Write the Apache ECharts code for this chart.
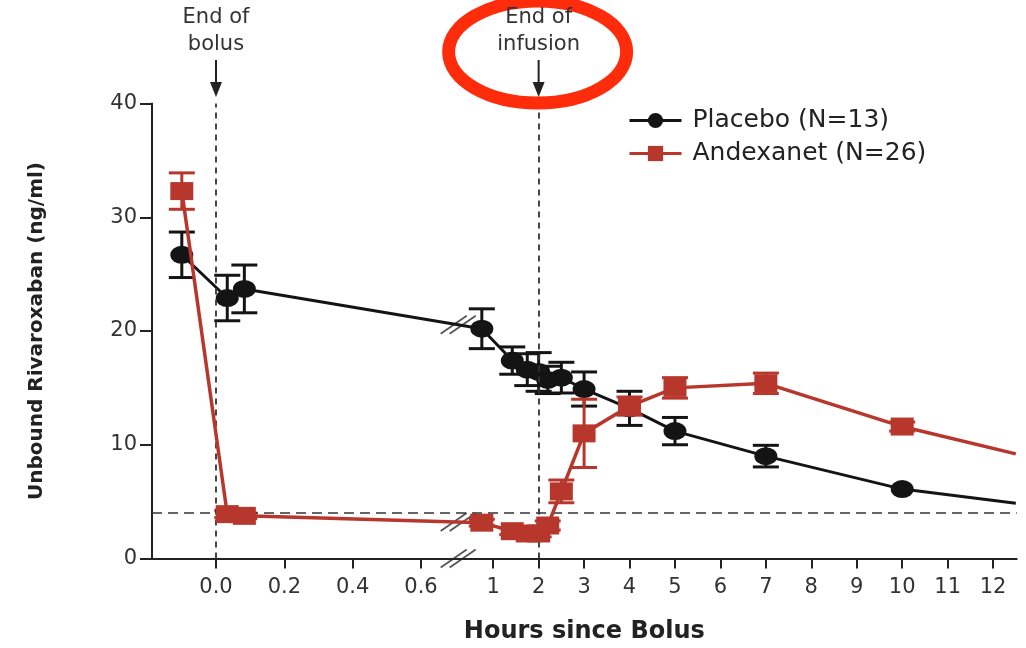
<!DOCTYPE html>
<html><head><meta charset="utf-8">
<script src="https://cdn.jsdelivr.net/npm/echarts@6/dist/echarts.min.js"></script>
<style>html,body{margin:0;padding:0;background:#fff}#c{width:1026px;height:648px}</style>
</head><body><div id="c"></div><script>
// ---- data (hours since bolus; unbound rivaroxaban ng/ml) ----
const hours       = [-0.1, 0.033, 0.083, 0.75, 1.42, 1.75, 2.0, 2.2, 2.5, 3, 4, 5, 7, 10, 12.5];
const placeboMean = [26.7, 22.9, 23.7, 20.2, 17.4, 16.6, 16.4, 15.7, 15.9, 14.9, 13.2, 11.2, 9.0, 6.1, 4.85];
const placeboErr  = [2.0, 2.0, 2.1, 1.75, 1.2, 1.4, 1.7, 1.2, 1.35, 1.5, 1.5, 1.2, 0.95, 0, null];
const andexMean   = [32.3, 3.9, 3.75, 3.15, 2.4, 2.2, 2.2, 2.9, 5.9, 11.0, 13.4, 15.0, 15.4, 11.6, 9.2];
const andexErr    = [1.6, 0.3, 0.25, 0.3, 0.3, 0.3, 0.3, 0.4, 1.0, 3.0, 0.8, 0.9, 0.9, 0.4, null];
const earlyTicks  = [0, 0.2, 0.4, 0.6];
const lateTicks   = [1, 2, 3, 4, 5, 6, 7, 8, 9, 10, 11, 12];
const seriesNames = ['Placebo (N=13)', 'Andexanet (N=26)'];
const thresholdLevel = 4;
const eventHours  = [0, 2];
const eventLabels = ['End of\nbolus', 'End of\ninfusion'];
const xTitle = 'Hours since Bolus';
const yTitle = 'Unbound Rivaroxaban (ng/ml)';

// ---- broken time axis: early part stretched, then a break ----
const EARLY_SCALE = 7.52, LATE_SHIFT = 5.10, BREAK_HOURS = 0.7, BREAK_U = 5.33;
const u = t => t < BREAK_HOURS ? t * EARLY_SCALE : t + LATE_SHIFT;
const tickU = earlyTicks.map(u).concat(lateTicks.map(u));
const tickText = earlyTicks.map(v => v.toFixed(1)).concat(lateTicks.map(String));

const FONT = 'DejaVu Sans';
const BLACK = '#141414', RED = '#b8372d';

function lineData(means, errs) {
  return hours.map((t, i) => errs[i] == null
    ? { value: [u(t), means[i]], symbol: 'none' }
    : [u(t), means[i]]);
}
function errData(means, errs) {
  const out = [];
  hours.forEach((t, i) => { if (errs[i]) out.push([u(t), means[i] - errs[i], means[i] + errs[i]]); });
  return out;
}
function errSeries(name, color, data, z) {
  return {
    name, type: 'custom', data, z, silent: true,
    encode: { x: 0, y: [1, 2] },
    renderItem: (params, api) => {
      const x = api.value(0);
      const lo = api.coord([x, api.value(1)]);
      const hi = api.coord([x, api.value(2)]);
      const w = 13;
      const st = { stroke: color, lineWidth: 3 };
      return { type: 'group', children: [
        { type: 'line', shape: { x1: lo[0], y1: lo[1], x2: hi[0], y2: hi[1] }, style: st },
        { type: 'line', shape: { x1: lo[0] - w, y1: lo[1], x2: lo[0] + w, y2: lo[1] }, style: st },
        { type: 'line', shape: { x1: hi[0] - w, y1: hi[1], x2: hi[0] + w, y2: hi[1] }, style: st }
      ]};
    }
  };
}

const chart = echarts.init(document.getElementById('c'), null, { renderer: 'canvas' });
const option = {
  animation: false,
  backgroundColor: '#fff',
  grid: { left: 152, right: 9.3, top: 103.5, bottom: 89.5, containLabel: false, outerBoundsMode: 'none' },
  legend: {
    data: seriesNames, orient: 'vertical', left: 623, top: 103,
    itemWidth: 52, itemHeight: 19, itemGap: 8,
    lineStyle: { width: 3 },
    textStyle: { fontFamily: FONT, fontSize: 25, color: '#222', padding: [0, 0, 0, 6] }
  },
  xAxis: {
    type: 'value', min: -1.408, max: 17.62,
    name: xTitle, nameLocation: 'middle', nameGap: 61,
    nameTextStyle: { fontFamily: FONT, fontSize: 24, fontWeight: 'bold', color: '#222' },
    axisLine: { show: true, onZero: false, lineStyle: { color: '#222', width: 2 } },
    axisTick: { show: true, customValues: tickU, length: 10, lineStyle: { color: '#222', width: 2 } },
    axisLabel: {
      customValues: tickU, margin: 19, fontFamily: FONT, fontSize: 21, color: '#333',
      formatter: v => { const i = tickU.findIndex(x => Math.abs(x - v) < 1e-6); return i < 0 ? '' : tickText[i]; }
    },
    splitLine: { show: false }
  },
  yAxis: {
    type: 'value', min: 0, max: 40, interval: 10,
    name: yTitle, nameLocation: 'middle', nameGap: 105,
    nameTextStyle: { fontFamily: FONT, fontSize: 20, fontWeight: 'bold', color: '#222' },
    axisLine: { show: true, onZero: false, lineStyle: { color: '#222', width: 2 } },
    axisTick: { show: true, length: 12, lineStyle: { color: '#222', width: 2 } },
    axisLabel: { margin: 15, fontFamily: FONT, fontSize: 21, color: '#333' },
    splitLine: { show: false }
  },
  series: [
    {
      name: 'guides', type: 'line', data: [[u(0), thresholdLevel]], z: 1,
      symbol: 'none', lineStyle: { opacity: 0 }, silent: true,
      markLine: {
        silent: true, symbol: 'none', animation: false, label: { show: false },
        data: [
          { yAxis: thresholdLevel, lineStyle: { color: '#333', width: 1.6, type: [10, 6] } },
          ...eventHours.map(h => ({ xAxis: u(h), lineStyle: { color: '#333', width: 1.8, type: [6, 5] } }))
        ]
      }
    },
    errSeries('placeboErr', BLACK, errData(placeboMean, placeboErr), 2),
    {
      name: seriesNames[0], type: 'line', z: 3, data: lineData(placeboMean, placeboErr),
      symbol: 'circle', symbolSize: [23, 18],
      lineStyle: { color: BLACK, width: 3 }, itemStyle: { color: BLACK }
    },
    errSeries('andexErr', RED, errData(andexMean, andexErr), 4),
    {
      name: seriesNames[1], type: 'line', z: 5, data: lineData(andexMean, andexErr),
      symbol: 'rect', symbolSize: [23, 18],
      lineStyle: { color: RED, width: 3.5 }, itemStyle: { color: RED }
    }
  ]
};
chart.setOption(option);

// ---- decorations placed through the axes ----
const P = (uu, v) => chart.convertToPixel({ gridIndex: 0 }, [uu, v]);
const g = [];
// red highlight ellipse around the "End of infusion" note (drawn first, under the text)
const xInf = P(u(eventHours[1]), 0)[0];
g.push({ type: 'ellipse', z: 20, shape: { cx: xInf - 1, cy: 52, rx: 89, ry: 51 }, style: { fill: 'none', stroke: '#fe2c0a', lineWidth: 13 } });
eventHours.forEach((h, i) => {
  const x = P(u(h), 0)[0];
  g.push({ type: 'text', x: x, y: 31, z: 21, style: { text: eventLabels[i], fontFamily: FONT, fontSize: 21, fill: '#333', align: 'center', verticalAlign: 'middle', lineHeight: 27 } });
  g.push({ type: 'line', z: 21, shape: { x1: x, y1: 60, x2: x, y2: 86 }, style: { stroke: '#222', lineWidth: 2 } });
  g.push({ type: 'polygon', z: 21, shape: { points: [[x - 6, 82], [x + 6, 82], [x, 97]] }, style: { fill: '#222' } });
});

// break marks on axis and on both lines
function yAt(means) {
  const a = 2, b = 3;
  const ua = u(hours[a]), ub = u(hours[b]);
  return means[a] + (means[b] - means[a]) * (BREAK_U - ua) / (ub - ua);
}
function breakMark(px) {
  const [x, y] = px, hw = 13, hh = 9, d = 4.5;
  return { type: 'group', z: 22, children: [
    { type: 'polygon', shape: { points: [[x - hw - d, y + hh], [x + hw - d, y - hh], [x + hw + d, y - hh], [x - hw + d, y + hh]] }, style: { fill: '#fff' } },
    { type: 'line', shape: { x1: x - hw - d, y1: y + hh, x2: x + hw - d, y2: y - hh }, style: { stroke: '#555', lineWidth: 1.8 } },
    { type: 'line', shape: { x1: x - hw + d, y1: y + hh, x2: x + hw + d, y2: y - hh }, style: { stroke: '#555', lineWidth: 1.8 } }
  ]};
}
g.push(breakMark(P(BREAK_U, 0)));
g.push(breakMark(P(BREAK_U, yAt(placeboMean))));
g.push(breakMark(P(BREAK_U, yAt(andexMean))));
chart.setOption({ graphic: g });
</script></body></html>
